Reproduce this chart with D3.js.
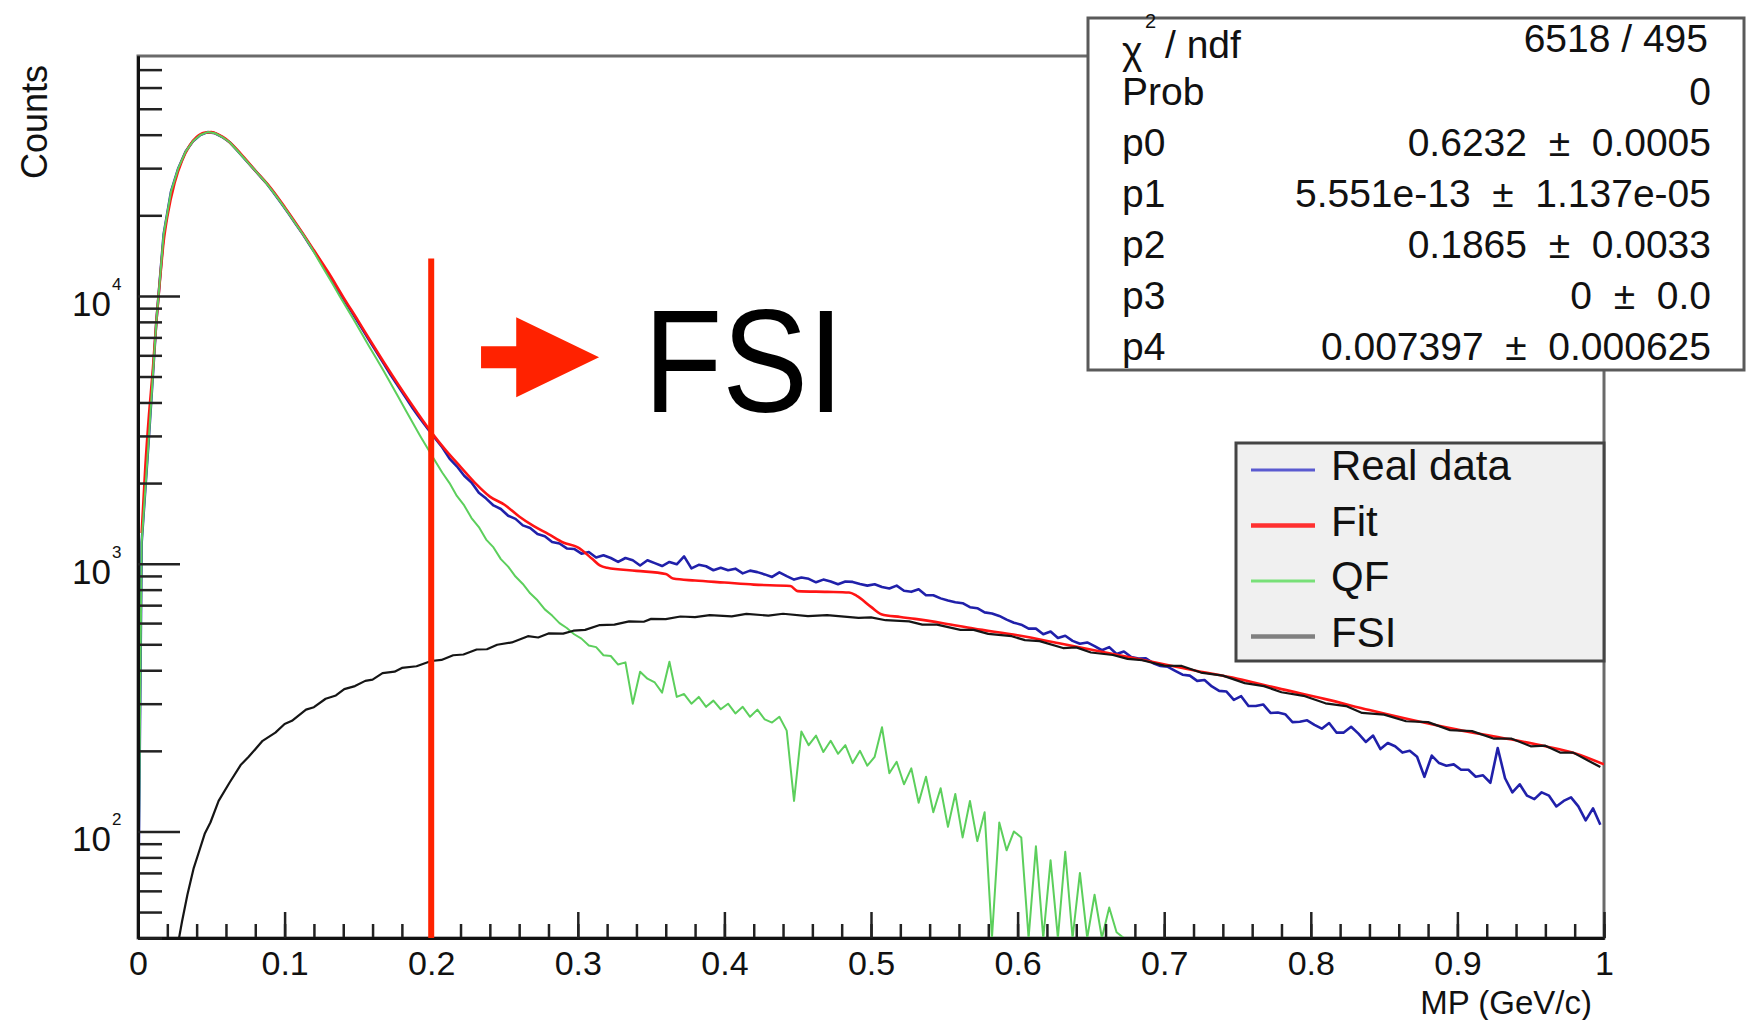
<!DOCTYPE html>
<html>
<head>
<meta charset="utf-8">
<script src="https://cdn.jsdelivr.net/npm/d3@7"></script>
<style>
body { margin: 0; background: #fff; }
text { font-family: "Liberation Sans", Arial, Helvetica, sans-serif; }
</style>
</head>
<body>
<script>
// histograms: 200 bins of 5 MeV/c, values are bin contents (counts)
var binWidth = 0.005;

var realData = [
  1200, 3000, 8000, 17000, 24500, 30000, 34600, 37800, 39900, 40900,
  40500, 39200, 37500, 35000, 32600, 30400, 28300, 26400, 24300, 22300,
  20400, 18600, 17000, 15400, 14000, 12600, 11400, 10300, 9300, 8400,
  7600, 6850, 6200, 5600, 5050, 4600, 4180, 3800, 3480, 3200,
  2950, 2720, 2470, 2310, 2130, 2010, 1840, 1750, 1650, 1600,
  1510, 1470, 1390, 1360, 1290, 1265, 1205, 1190, 1140, 1135,
  1090, 1105, 1055, 1075, 1050, 1015, 1050, 1030, 985, 1030,
  1005, 980, 1015, 995, 1065, 960, 990, 978, 945, 965,
  945, 958, 920, 942, 930, 912, 892, 928, 898, 872,
  888, 878, 852, 872, 858, 838, 858, 855, 840, 828,
  838, 818, 808, 828, 792, 785, 802, 762, 762, 742,
  728, 718, 712, 688, 682, 658, 652, 638, 618, 602,
  592, 572, 572, 545, 558, 528, 538, 515, 502, 508,
  492, 475, 488, 460, 470, 448, 442, 443, 425, 415,
  412, 398, 385, 382, 365, 368, 348, 335, 333, 310,
  320, 294, 294, 298, 277, 278, 274, 256, 257, 260,
  250, 242, 254, 234, 234, 246, 232, 216, 228, 203,
  214, 208, 197, 200, 190, 160, 192, 180, 176, 178,
  170, 170, 160, 162, 152, 205, 158, 140, 150, 136,
  132, 140, 136, 124, 130, 134, 124, 110, 122, 106
];

var qfData = [
  1200, 3000, 8000, 17000, 24500, 30000, 34600, 37800, 39900, 40900,
  40500, 39200, 37500, 35000, 32600, 30400, 28300, 26400, 24300, 22300,
  20400, 18600, 17000, 15400, 13800, 12400, 11150, 10000, 9000, 8100,
  7250, 6500, 5850, 5250, 4700, 4200, 3750, 3350, 3000, 2700,
  2430, 2190, 2000, 1790, 1650, 1480, 1370, 1230, 1150, 1040,
  975, 895, 840, 775, 730, 675, 640, 600, 575, 545,
  525, 495, 488, 455, 452, 420, 428, 300, 395, 372,
  360, 330, 430, 318, 326, 300, 318, 292, 308, 286,
  300, 276, 292, 268, 285, 262, 255, 268, 238, 130,
  236, 210, 228, 198, 218, 195, 210, 180, 200, 176,
  190, 245, 165, 182, 150, 172, 128, 160, 118, 145,
  104, 138, 95, 130, 92, 118, 35, 108, 85, 100,
  95, 32, 88, 40, 78, 25, 84, 38, 70, 20,
  58, 30, 52, 42, 0, 0, 0, 0, 0, 0,
  0, 0, 0, 0, 0, 0, 0, 0, 0, 0,
  0, 0, 0, 0, 0, 0, 0, 0, 0, 0,
  0, 0, 0, 0, 0, 0, 0, 0, 0, 0,
  0, 0, 0, 0, 0, 0, 0, 0, 0, 0,
  0, 0, 0, 0, 0, 0, 0, 0, 0, 0,
  0, 0, 0, 0, 0, 0, 0, 0, 0, 0
];

// fit function sampled at these momenta
var fitX = [0.0025, 0.005, 0.0075, 0.01, 0.0125, 0.015, 0.0175, 0.02, 0.025, 0.03,
  0.035, 0.04, 0.045, 0.05, 0.055, 0.06, 0.07, 0.08, 0.09, 0.10,
  0.11, 0.12, 0.13, 0.14, 0.15, 0.16, 0.17, 0.18, 0.19, 0.20,
  0.21, 0.22, 0.23, 0.24, 0.25, 0.26, 0.27, 0.28, 0.29, 0.30,
  0.31, 0.315, 0.32, 0.34, 0.36, 0.365, 0.38, 0.40, 0.42, 0.445,
  0.45, 0.47, 0.485, 0.49, 0.50, 0.507, 0.52, 0.53, 0.55, 0.57,
  0.60, 0.63, 0.66, 0.69, 0.72, 0.75, 0.78, 0.81, 0.84, 0.87,
  0.90, 0.93, 0.96, 0.98, 1.0];
var fitY = [1300, 2300, 3600, 5200, 8000, 11500, 16000, 19800, 26500, 32000,
  36300, 39200, 40700, 40900, 40000, 38500, 34000, 29400, 25500, 21500,
  17900, 14800, 12200, 9900, 8100, 6600, 5400, 4450, 3700, 3100,
  2650, 2300, 2000, 1780, 1660, 1500, 1380, 1290, 1200, 1150,
  1040, 985, 965, 940, 915, 880, 865, 850, 835, 825,
  790, 785, 780, 760, 690, 648, 632, 622, 598, 572,
  540, 502, 466, 432, 400, 372, 340, 312, 284, 260,
  240, 224, 208, 196, 178];

// FSI component
var fsiX = [0.028, 0.03, 0.0337, 0.038, 0.0416, 0.0455, 0.0494, 0.055, 0.0624, 0.07,
  0.0755, 0.085, 0.0937, 0.1, 0.105, 0.1146, 0.12, 0.128, 0.135, 0.1407,
  0.148, 0.155, 0.16, 0.1668, 0.175, 0.18, 0.19, 0.2, 0.207, 0.215,
  0.222, 0.231, 0.238, 0.245, 0.255, 0.266, 0.273, 0.28, 0.29, 0.297,
  0.305, 0.315, 0.325, 0.335, 0.345, 0.35, 0.36, 0.37, 0.38, 0.39,
  0.405, 0.415, 0.43, 0.44, 0.457, 0.47, 0.4915, 0.5, 0.51, 0.526,
  0.535, 0.545, 0.561, 0.57, 0.58, 0.596, 0.605, 0.615, 0.631, 0.64,
  0.65, 0.665, 0.675, 0.685, 0.7, 0.712, 0.725, 0.74, 0.755, 0.768,
  0.78, 0.795, 0.81, 0.824, 0.835, 0.85, 0.865, 0.88, 0.895, 0.91,
  0.925, 0.937, 0.95, 0.96, 0.97, 0.979, 0.99, 0.9975];
var fsiY = [36, 46, 58, 73, 84, 98, 108, 130, 152, 177,
  190, 218, 234, 252, 259, 285, 291, 313, 322, 340,
  349, 365, 369, 390, 395, 408, 414, 433, 437, 455,
  458, 478, 479, 498, 508, 536, 530, 549, 548, 562,
  566, 590, 592, 609, 607, 622, 621, 635, 632, 642,
  636, 649, 640, 650, 637, 642, 627, 630, 615, 609,
  592, 592, 566, 566, 547, 536, 518, 514, 484, 487,
  466, 456, 441, 436, 416, 415, 392, 382, 358, 349,
  331, 321, 301, 294, 277, 273, 258, 256, 239, 237,
  222, 222, 208, 209, 197, 197, 183, 174];

var xTickValues = [0, 0.1, 0.2, 0.3, 0.4, 0.5, 0.6, 0.7, 0.8, 0.9, 1];
var xTickLabels = ["0", "0.1", "0.2", "0.3", "0.4", "0.5", "0.6", "0.7", "0.8", "0.9", "1"];
var yDecades = [100, 1000, 10000];
var yExponents = ["2", "3", "4"];

// ROOT puts a wider gap around the +- sign
var pm = "\u00a0 \u00b1 \u00a0";
var statNames = ["Prob", "p0", "p1", "p2", "p3", "p4"];
var statValues = ["0", "0.6232" + pm + "0.0005", "5.551e-13" + pm + "1.137e-05",
  "0.1865" + pm + "0.0033", "0" + pm + "0.0", "0.007397" + pm + "0.000625"];
var chi2ndf = "6518 / 495";

var legendNames = ["Real data", "Fit", "QF", "FSI"];
var legendColors = ["#5a5ad0", "#ff3030", "#78e078", "#808080"];
var legendWidths = [3, 4.5, 3, 4.5];

// annotation: cut at 0.2 and arrow pointing to the FSI region
var cutX = 0.2, cutTop = 13800;
var arrowFrom = 0.234, arrowHead = 0.258, arrowTip = 0.3145, arrowLevel = 5900;
var fsiLabelX = 0.345, fsiLabelY = 3670;

var width = 1746, height = 1020;

var svg = d3.select("body").append("svg")
    .attr("width", width)
    .attr("height", height)
    .style("background", "#fff");

var x = d3.scaleLinear().domain([0, 1]).range([138, 1604]);
var y = d3.scaleLog().domain([40, 78700]).range([938, 56]);
var yMin = y.domain()[0];

svg.append("clipPath").attr("id", "plotclip")
  .append("rect")
    .attr("x", x(0)).attr("y", y.range()[1])
    .attr("width", x(1) - x(0)).attr("height", y.range()[0] - y.range()[1]);

// frame
svg.append("rect")
    .attr("x", x(0)).attr("y", y.range()[1])
    .attr("width", x(1) - x(0)).attr("height", y.range()[0] - y.range()[1])
    .attr("fill", "none")
    .attr("stroke", "#6a6a6a")
    .attr("stroke-width", 3);

// empty bins are drawn on the frame bottom, like ROOT does
function yc(v) { return y(Math.max(v, yMin)); }

var line = d3.line()
    .x(function(d) { return x(d[0]); })
    .y(function(d) { return yc(d[1]); });

function histPoints(vals) {
  var pts = [[0, 0]];
  vals.forEach(function(v, i) { pts.push([(i + 0.5) * binWidth, v]); });
  return pts;
}

var plot = svg.append("g").attr("clip-path", "url(#plotclip)");

plot.append("path")
    .attr("d", line(histPoints(realData)))
    .attr("fill", "none")
    .attr("stroke", "#2020aa")
    .attr("stroke-width", 2.6)
    .attr("stroke-linejoin", "round");

plot.append("path")
    .attr("d", line.curve(d3.curveMonotoneX)(fitX.map(function(v, i) { return [v, fitY[i]]; })))
    .attr("fill", "none")
    .attr("stroke", "#ff1414")
    .attr("stroke-width", 2.6);
line.curve(d3.curveLinear);

plot.append("path")
    .attr("d", line(histPoints(qfData)))
    .attr("fill", "none")
    .attr("stroke", "#5ccf5c")
    .attr("stroke-width", 2)
    .attr("stroke-linejoin", "round");

plot.append("path")
    .attr("d", line(fsiX.map(function(v, i) { return [v, fsiY[i]]; })))
    .attr("fill", "none")
    .attr("stroke", "#151515")
    .attr("stroke-width", 2.2)
    .attr("stroke-linejoin", "round");

// x axis, ticks pointing inwards
var xMinor = d3.axisBottom(x)
    .tickValues(d3.range(0, 1.0001, 0.02))
    .tickSizeInner(-14).tickSizeOuter(0)
    .tickFormat("");
var xMajor = d3.axisBottom(x)
    .tickValues(xTickValues)
    .tickSizeInner(-26).tickSizeOuter(0)
    .tickPadding(13)
    .tickFormat(function(d, i) { return xTickLabels[i]; });

var gxm = svg.append("g").attr("transform", "translate(0," + y.range()[0] + ")").call(xMinor);
var gx = svg.append("g").attr("transform", "translate(0," + y.range()[0] + ")").call(xMajor);
[gxm, gx].forEach(function(g) {
  g.select(".domain").attr("stroke", "#111").attr("stroke-width", 3);
  g.selectAll(".tick line").attr("stroke", "#222").attr("stroke-width", 2.5);
});
gx.selectAll(".tick text")
    .attr("fill", "#111")
    .style("font-size", "34px");

// y axis (log), ticks pointing inwards
var yMinorVals = y.ticks().filter(function(v) { return yDecades.indexOf(v) < 0; });
var gym = svg.append("g").attr("transform", "translate(" + x(0) + ",0)")
    .call(d3.axisLeft(y).tickValues(yMinorVals).tickSizeInner(-24).tickSizeOuter(0).tickFormat(""));
var gy = svg.append("g").attr("transform", "translate(" + x(0) + ",0)")
    .call(d3.axisLeft(y).tickValues(yDecades).tickSizeInner(-42).tickSizeOuter(0).tickFormat(""));
[gym, gy].forEach(function(g) {
  g.select(".domain").attr("stroke", "#111").attr("stroke-width", 3);
  g.selectAll(".tick line").attr("stroke", "#222").attr("stroke-width", 2.5);
});

yDecades.forEach(function(v, i) {
  svg.append("text")
      .attr("x", 111).attr("y", y(v) + 20)
      .attr("text-anchor", "end")
      .attr("fill", "#111")
      .style("font-size", "35px")
      .text("10");
  svg.append("text")
      .attr("x", 112).attr("y", y(v) - 6)
      .attr("fill", "#111")
      .style("font-size", "17px")
      .text(yExponents[i]);
});

// axis titles
svg.append("text")
    .attr("transform", "translate(47,65) rotate(-90)")
    .attr("text-anchor", "end")
    .attr("fill", "#111")
    .style("font-size", "36px")
    .text("Counts");

svg.append("text")
    .attr("x", 1592).attr("y", 1014)
    .attr("text-anchor", "end")
    .attr("fill", "#111")
    .style("font-size", "33px")
    .text("MP (GeV/c)");

// cut line and arrow
svg.append("line")
    .attr("x1", x(cutX)).attr("x2", x(cutX))
    .attr("y1", y(cutTop)).attr("y2", y.range()[0])
    .attr("stroke", "#ff2200")
    .attr("stroke-width", 6);

var ay = y(arrowLevel);
svg.append("path")
    .attr("d", "M" + x(arrowFrom) + "," + (ay - 11) +
      "L" + x(arrowHead) + "," + (ay - 11) +
      "L" + x(arrowHead) + "," + (ay - 40) +
      "L" + x(arrowTip) + "," + ay +
      "L" + x(arrowHead) + "," + (ay + 40) +
      "L" + x(arrowHead) + "," + (ay + 11) +
      "L" + x(arrowFrom) + "," + (ay + 11) + "Z")
    .attr("fill", "#ff2200");

svg.append("text")
    .attr("x", x(fsiLabelX)).attr("y", y(fsiLabelY))
    .attr("fill", "#000")
    .attr("textLength", 200)
    .attr("lengthAdjust", "spacingAndGlyphs")
    .style("font-size", "146px")
    .text("FSI");

// stats box
svg.append("rect")
    .attr("x", 1088).attr("y", 18)
    .attr("width", 656).attr("height", 352)
    .attr("fill", "#fff")
    .attr("stroke", "#5a5a5a")
    .attr("stroke-width", 3);

var stats = svg.append("g").style("font-size", "39px").attr("fill", "#111");
stats.append("text").attr("x", 1122).attr("y", 64).text("\u03c7");
stats.append("text").attr("x", 1145).attr("y", 28).style("font-size", "20px").text("2");
stats.append("text").attr("x", 1165).attr("y", 58).text("/ ndf");
stats.append("text").attr("x", 1708).attr("y", 52).attr("text-anchor", "end").text(chi2ndf);

statNames.forEach(function(n, i) {
  var by = 105 + i * 51;
  stats.append("text").attr("x", 1122).attr("y", by).text(n);
  stats.append("text").attr("x", 1711).attr("y", by).attr("text-anchor", "end").text(statValues[i]);
});

// legend
svg.append("rect")
    .attr("x", 1236).attr("y", 443)
    .attr("width", 368).attr("height", 218)
    .attr("fill", "#f0f0f0")
    .attr("stroke", "#444")
    .attr("stroke-width", 3);

legendNames.forEach(function(n, i) {
  var by = 480 + i * 55.5;
  svg.append("line")
      .attr("x1", 1251).attr("x2", 1315)
      .attr("y1", by - 10).attr("y2", by - 10)
      .attr("stroke", legendColors[i])
      .attr("stroke-width", legendWidths[i]);
  svg.append("text")
      .attr("x", 1331).attr("y", by)
      .attr("fill", "#111")
      .style("font-size", "42px")
      .text(n);
});
</script>
</body>
</html>
